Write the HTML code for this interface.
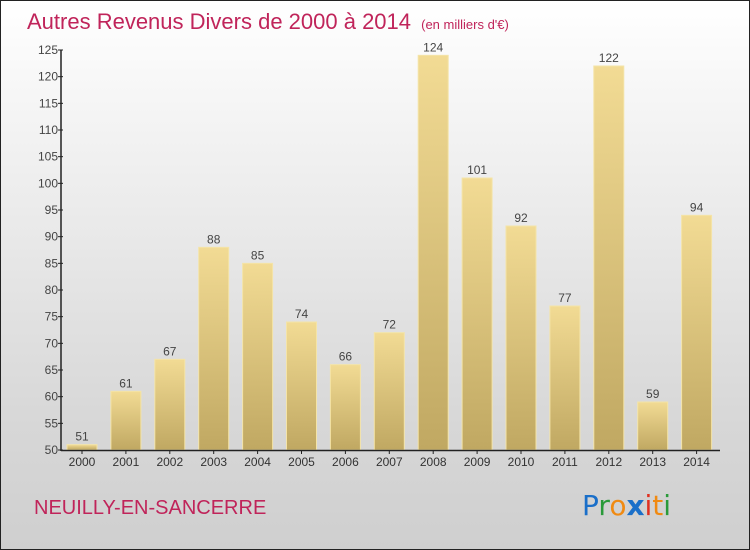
<!DOCTYPE html>
<html><head><meta charset="utf-8"><style>
body{margin:0;width:750px;height:550px;overflow:hidden;font-family:"Liberation Sans",sans-serif}
#c{position:absolute;left:0;top:0;width:748px;height:548px;border:1px solid #222;background:linear-gradient(#ffffff,#f2f2f2 25%,#d8d8d8 75%,#cfcfcf)}
</style></head><body>
<div id="c">
<svg width="750" height="550" style="position:absolute;left:-1px;top:-1px">
<defs><linearGradient id="bg" x1="0" y1="0" x2="0" y2="1"><stop offset="0" stop-color="#f2db94"/><stop offset="1" stop-color="#c0a862"/></linearGradient></defs>
<text x="27" y="29" font-size="22" fill="#c0245a">Autres Revenus Divers de 2000 à 2014 <tspan font-size="13" dx="4">(en milliers d'€)</tspan></text>
<g id="plot"></g>
<text x="34" y="514" font-size="20" fill="#c0245a">NEUILLY-EN-SANCERRE</text>
<text x="582" y="515" font-size="28" font-family="DejaVu Sans"><tspan fill="#1a6fc9">P</tspan><tspan fill="#2a9a3a">r</tspan><tspan fill="#f08a12">o</tspan><tspan fill="#1a6fc9" font-weight="bold">x</tspan><tspan fill="#e03020">i</tspan><tspan fill="#f08a12">t</tspan><tspan fill="#2a9a3a">i</tspan></text>
</svg></div>
<script>
const years=["2000","2001","2002","2003","2004","2005","2006","2007","2008","2009","2010","2011","2012","2013","2014"];
const values=[51,61,67,88,85,74,66,72,124,101,92,77,122,59,94];
const yTicks=[50,55,60,65,70,75,80,85,90,95,100,105,110,115,120,125];
const NS="http://www.w3.org/2000/svg";
const g=document.getElementById('plot');
const y=v=>450-(v-50)*400/75;
const x=i=>82+i*43.9;
function mk(t,a,txt){const e=document.createElementNS(NS,t);for(const k in a)e.setAttribute(k,a[k]);if(txt!=null)e.textContent=txt;g.appendChild(e);return e;}
years.forEach((yr,i)=>{
 const r=mk('rect',{x:x(i)-15,y:y(values[i]),width:30,height:450-y(values[i]),fill:'url(#bg)',stroke:'#f4e4a8','stroke-width':1});
 
 
 const l=mk('text',{x:x(i),y:y(values[i])-4,'font-size':12,'text-anchor':'middle',fill:'#444'},values[i]);
 
 
 const t=mk('text',{x:x(i),y:466,'font-size':12,'text-anchor':'middle',fill:'#333'},yr);
 
 
 mk('line',{x1:x(i),x2:x(i),y1:450,y2:454,stroke:'#222'});
});
yTicks.forEach(v=>{
 mk('line',{x1:58,x2:63,y1:y(v),y2:y(v),stroke:'#222'});
 const t=mk('text',{x:58,y:y(v)+4,'font-size':12,'text-anchor':'end',fill:'#444'},v);
 
 
});
const ax=mk('line',{x1:61,x2:61,y1:50,y2:451,stroke:'#222','stroke-width':1.5});


const bx=mk('line',{x1:61,x2:720,y1:450.5,y2:450.5,stroke:'#222','stroke-width':1.5});


</script>
</body></html>
